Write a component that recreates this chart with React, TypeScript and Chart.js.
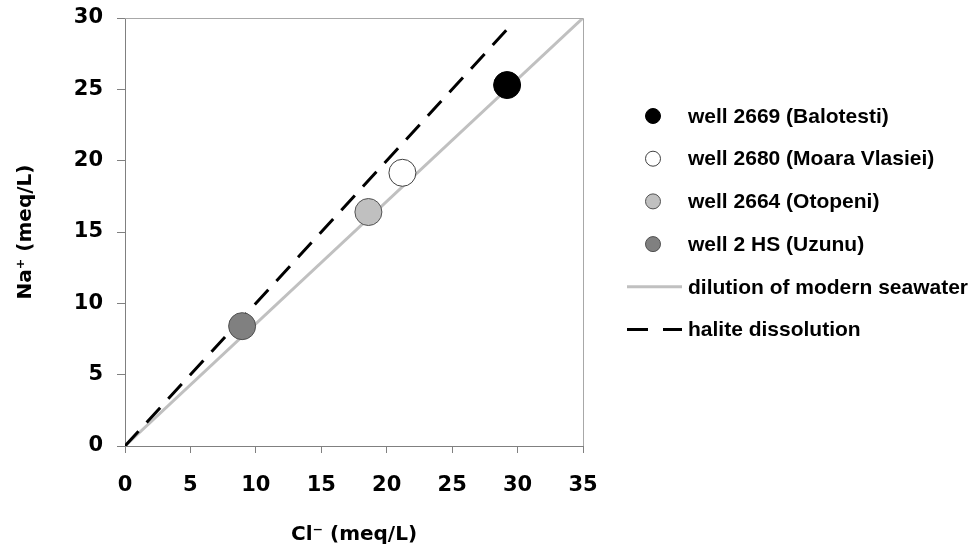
import React, { useEffect, useRef } from "react";
import { Chart, registerables } from "chart.js";

Chart.register(...registerables);

const wellNames = [
  "well 2669 (Balotesti)",
  "well 2680 (Moara Vlasiei)",
  "well 2664 (Otopeni)",
  "well 2 HS (Uzunu)",
];
const chloride = [29.2, 21.2, 18.6, 8.95];
const sodium = [25.3, 19.15, 16.4, 8.4];
const wellFill = ["#000000", "#ffffff", "#c0c0c0", "#808080"];
const wellBorder = ["#000000", "#404040", "#505050", "#505050"];

const seawaterLabel = "dilution of modern seawater";
const seawaterCl = [0, 35];
const seawaterNa = [0, 30];
const haliteLabel = "halite dissolution";
const haliteCl = [0, 29.5];
const haliteNa = [0, 29.5];

const xTicks = [0, 5, 10, 15, 20, 25, 30, 35];
const yTicks = [0, 5, 10, 15, 20, 25, 30];

const tickFont = { family: "'DejaVu Sans', sans-serif", size: 21, weight: "bold" as const };
const titleFont = { family: "'DejaVu Sans', sans-serif", size: 20, weight: "bold" as const };
const legendFont = "bold 21px 'Liberation Sans', Arial, sans-serif";

const frameAndLegend = {
  id: "frameAndLegend",
  afterDatasetsDraw(chart: any) {
    const { ctx, chartArea } = chart;
    ctx.save();
    // top and right frame
    ctx.strokeStyle = "#a8a8a8";
    ctx.lineWidth = 1;
    ctx.beginPath();
    ctx.moveTo(chartArea.left, chartArea.top + 0.5);
    ctx.lineTo(chartArea.right + 0.5, chartArea.top + 0.5);
    ctx.lineTo(chartArea.right + 0.5, chartArea.bottom);
    ctx.stroke();

    // legend
    const markerX = 653;
    const lineX0 = 627;
    const lineX1 = 682;
    const textX = 688;
    const rowY0 = 116;
    const rowH = 42.7;
    ctx.font = legendFont;
    ctx.textBaseline = "middle";
    ctx.textAlign = "left";
    const ds = chart.data.datasets;
    ds.forEach((d: any, i: number) => {
      const y = rowY0 + i * rowH;
      if (d.showLine) {
        ctx.save();
        ctx.strokeStyle = d.borderColor;
        ctx.lineWidth = d.borderWidth;
        ctx.setLineDash(d.borderDash ? [21, 15] : []);
        ctx.beginPath();
        ctx.moveTo(lineX0, y);
        ctx.lineTo(lineX1, y);
        ctx.stroke();
        ctx.restore();
      } else {
        ctx.beginPath();
        ctx.arc(markerX, y, 7.5, 0, Math.PI * 2);
        ctx.fillStyle = d.backgroundColor;
        ctx.fill();
        ctx.strokeStyle = d.borderColor;
        ctx.lineWidth = 1;
        ctx.stroke();
      }
      ctx.fillStyle = "#000000";
      ctx.fillText(d.label, textX, y + 1);
    });
    ctx.restore();
  },
};

export default function App() {
  const canvasRef = useRef<HTMLCanvasElement | null>(null);

  useEffect(() => {
    document.body.style.margin = "0";
    const canvas = canvasRef.current;
    if (!canvas) return;

    const pointSets = wellNames.map((name, i) => ({
      type: "scatter" as const,
      label: name,
      data: [{ x: chloride[i], y: sodium[i] }],
      backgroundColor: wellFill[i],
      borderColor: wellBorder[i],
      borderWidth: 1,
      pointRadius: 13.5,
      showLine: false,
      order: 0,
    }));

    const chart = new Chart(canvas, {
      type: "scatter",
      data: {
        datasets: [
          ...pointSets,
          {
            type: "scatter" as const,
            label: seawaterLabel,
            data: seawaterCl.map((x, i) => ({ x, y: seawaterNa[i] })),
            borderColor: "#c0c0c0",
            backgroundColor: "#c0c0c0",
            borderWidth: 3,
            pointRadius: 0,
            showLine: true,
            order: 2,
          },
          {
            type: "scatter" as const,
            label: haliteLabel,
            data: haliteCl.map((x, i) => ({ x, y: haliteNa[i] })),
            borderColor: "#000000",
            backgroundColor: "#000000",
            borderWidth: 3,
            borderDash: [20, 12],
            pointRadius: 0,
            showLine: true,
            order: 1,
          },
        ] as any,
      },
      options: {
        animation: false,
        responsive: false,
        events: [],
        layout: { padding: { left: 0, right: 395, top: 18, bottom: 0 } },
        plugins: {
          legend: { display: false },
          tooltip: { enabled: false },
        },
        scales: {
          x: {
            type: "linear",
            min: 0,
            max: 35,
            afterBuildTicks: (scale: any) => {
              scale.ticks = xTicks.map((v) => ({ value: v }));
            },
            afterFit: (scale: any) => {
              scale.height = 102;
              scale.paddingLeft = 0;
              scale.paddingRight = 0;
            },
            ticks: { color: "#000", font: tickFont, padding: 20, maxRotation: 0 },
            grid: {
              drawOnChartArea: false,
              drawTicks: true,
              tickLength: 7,
              color: "#808080",
            },
            border: { display: true, color: "#808080", width: 1 },
            title: {
              display: true,
              text: "Cl\u207B (meq/L)",
              color: "#000",
              font: titleFont,
              padding: { top: 0, bottom: 1 },
            },
          },
          y: {
            type: "linear",
            min: 0,
            max: 30,
            afterBuildTicks: (scale: any) => {
              scale.ticks = yTicks.map((v) => ({ value: v }));
            },
            afterFit: (scale: any) => {
              scale.width = 125;
              scale.paddingTop = 0;
              scale.paddingBottom = 0;
            },
            ticks: { color: "#000", font: tickFont, padding: 14 },
            grid: {
              drawOnChartArea: false,
              drawTicks: true,
              tickLength: 8,
              color: "#808080",
            },
            border: { display: true, color: "#808080", width: 1 },
            title: {
              display: true,
              text: "Na\u207A (meq/L)",
              color: "#000",
              font: titleFont,
              padding: 14,
            },
          },
        },
      },
      plugins: [frameAndLegend],
    });

    return () => chart.destroy();
  }, []);

  return (
    <div style={{ width: 978, height: 548 }}>
      <canvas ref={canvasRef} width={978} height={548} style={{ display: "block" }} />
    </div>
  );
}
